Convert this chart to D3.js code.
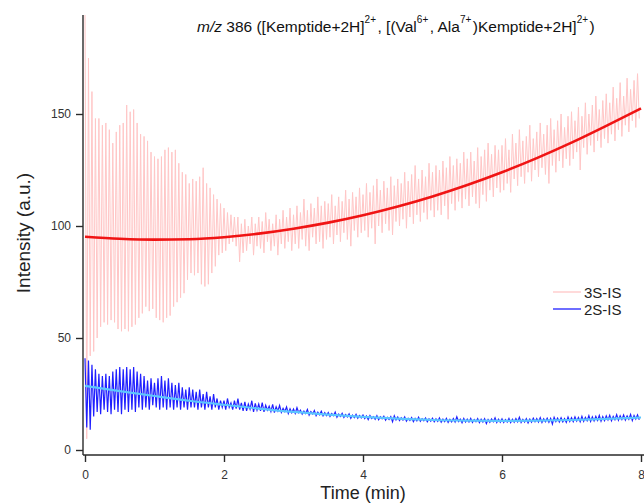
<!DOCTYPE html>
<html>
<head>
<meta charset="utf-8">
<script src="https://cdn.jsdelivr.net/npm/d3@7"></script>
<style>
  body { margin: 0; background: #fff; }
  svg { font-family: Arial, "Liberation Sans", sans-serif; }
</style>
</head>
<body>
<svg id="chart"></svg>
<script>
// sample spacing of the raw traces (min): each cycle = one peak + one trough
const step = 0.05;

const redPeaks = [
  196, 175, 160, 148, 148, 145, 146, 143, 137, 142,
  145, 146, 154, 151, 152, 146, 141, 140, 138, 133,
  131, 130, 131, 134, 135, 133, 134, 128, 124, 123,
  119, 121, 120, 122, 126, 119, 117, 114, 112, 110,
  108, 106, 105, 104, 104, 101, 103, 100, 104, 101,
  104, 102, 106, 103, 101, 105, 103, 107, 104, 108,
  105, 109, 106, 112, 107, 110, 108, 113, 109, 111,
  110, 114, 109, 113, 111, 116, 112, 115, 113, 117,
  114, 119, 115, 118, 121, 116, 120, 117, 122, 118,
  121, 119, 124, 120, 123, 127, 121, 125, 122, 128,
  124, 127, 125, 129, 126, 131, 127, 130, 128, 133,
  130, 133, 129, 135, 131, 134, 137, 132, 136, 134,
  136, 139, 134, 141, 137, 143, 138, 140, 145, 139,
  142, 146, 141, 145, 148, 143, 147, 150, 144, 149,
  151, 147, 153, 149, 155, 150, 154, 158, 152, 156,
  159, 155, 162, 157, 164, 158, 166, 161, 165, 168
];
const redTroughs = [
  5, 42, 44, 50, 55, 57, 56, 58, 57, 54,
  53, 54, 53, 55, 56, 59, 61, 64, 62, 63,
  59, 58, 57, 59, 60, 64, 66, 68, 70, 76,
  79, 78, 79, 74, 73, 74, 79, 82, 87, 88,
  89, 92, 93, 91, 84, 88, 89, 92, 87, 91,
  90, 88, 93, 89, 91, 87, 92, 90, 93, 89,
  92, 90, 94, 91, 89, 95, 92, 93, 90, 94,
  95, 92, 96, 93, 97, 94, 91, 98, 95, 97,
  98, 95, 99, 92, 100, 97, 101, 98, 96, 102,
  100, 103, 99, 104, 101, 105, 102, 106, 103, 107,
  104, 107, 105, 109, 103, 110, 107, 111, 108, 112,
  109, 113, 110, 108, 114, 111, 116, 113, 117, 115,
  116, 119, 115, 121, 118, 122, 119, 124, 120, 125,
  122, 126, 123, 119, 127, 124, 129, 126, 130, 127,
  130, 133, 125, 135, 132, 136, 133, 138, 135, 139,
  137, 141, 138, 143, 140, 145, 142, 147, 144, 148
];
const bluePeaks = [
  41, 40, 38, 36, 34, 33, 34, 33, 35, 36,
  37, 36, 37, 36, 37, 35, 34, 33, 31, 32,
  30, 32, 33, 31, 32, 30, 29, 30, 28, 27,
  28, 27, 26, 27, 25, 26, 24, 25, 23, 22,
  22, 23, 21, 22, 23, 21, 21.5, 20.5, 22, 20.8,
  20.5, 21.2, 20, 19.6, 20.4, 19.3, 19.9, 18.6, 19.2, 18.4,
  18.3, 18.9, 17.8, 17.4, 18.1, 17.1, 17.6, 16.9, 17.3, 16.7,
  16.7, 16.3, 16.9, 16, 16.4, 15.8, 16.1, 15.6, 15.9, 15.4,
  15.6, 15.2, 15.4, 14.9, 15.3, 14.8, 15.1, 14.6, 14.9, 15.3,
  14.7, 14.4, 14.8, 14.2, 14.5, 14.1, 14.6, 14, 14.3, 13.9,
  14.2, 13.9, 14.3, 13.8, 14.1, 13.7, 14, 14.8, 13.8, 14.1,
  13.8, 14.1, 13.6, 14, 13.7, 14, 13.6, 13.9, 14.4, 13.7,
  13.9, 13.6, 14.1, 13.7, 14, 14.6, 13.7, 14, 13.8, 14.2,
  14, 14.4, 13.9, 14.2, 14.1, 14.6, 14.2, 14.4, 14, 14.7,
  14.4, 14.8, 14.5, 15, 14.6, 15.3, 14.8, 15, 15.4, 14.9,
  15.2, 15.5, 15, 15.8, 15.3, 15.6, 15.2, 15.9, 15.4, 15.7
];
const blueTroughs = [
  10, 9, 15, 17, 16, 18, 17, 16, 18, 17,
  16, 18, 17, 18, 17, 19, 18, 19, 18, 20,
  19, 18, 19, 18, 19, 18, 19, 18, 19, 18,
  19, 19, 18, 19, 18, 19, 18, 19, 18, 19,
  18, 19, 18, 18.5, 18, 17.5, 17.5, 18.2, 17, 17.8,
  17.5, 17, 17.8, 17.2, 16.7, 17.4, 16.8, 17.2, 16.3, 16.6,
  16.3, 16.7, 16, 16.3, 15.6, 16.1, 15.3, 15.7, 15.3, 15.4,
  15, 15.3, 14.6, 15, 14.5, 14.8, 14.1, 14.5, 14.2, 14.3,
  14, 13.6, 14.1, 13.7, 13.5, 13.9, 13.3, 13.6, 12.6, 13.4,
  13.2, 13.3, 12.9, 13.2, 12.7, 13, 12.8, 13.1, 12.6, 12.9,
  12.6, 12.8, 12.4, 12.7, 12.3, 12.6, 12.5, 12.7, 12.2, 12.5,
  12.5, 12.3, 12.6, 12.2, 12.5, 11.8, 12.4, 12.6, 12.3, 12.4,
  12.3, 12.5, 12.2, 12.4, 12.6, 12.3, 12.5, 12.1, 12.4, 12.6,
  12.5, 12.3, 12.6, 12.4, 11.6, 12.7, 12.5, 12.6, 12.3, 12.7,
  12.7, 12.9, 12.6, 12.8, 13.1, 12.8, 13, 13.2, 12.9, 13.1,
  13.4, 13.1, 13.5, 13.3, 13.6, 13.4, 13.7, 13.2, 13.8, 13.5
];

// fitted curves, read every 0.5 min
const fitTimes = [0, 0.5, 1, 1.5, 2, 2.5, 3, 3.5, 4, 4.5, 5, 5.5, 6, 6.5, 7, 7.5, 8];
const redFit = [95.2, 94.3, 93.9, 94.1, 95.0, 96.6, 98.8, 101.5, 104.8, 108.7, 113.2, 118.3, 124.0, 130.3, 137.2, 144.7, 152.5];
const blueFit = [28.6, 26.3, 24.1, 22.0, 20.2, 18.5, 17.0, 15.8, 14.8, 14.0, 13.4, 13.1, 13.0, 13.1, 13.4, 13.9, 14.5];

const xTicks = [0, 2, 4, 6, 8];
const yTicks = [0, 50, 100, 150];
const legendNames = ["3S-IS", "2S-IS"];

const width = 644;
const height = 503;
const axisX = 83;      // left axis line
const axisY = 455;     // bottom axis line
const plotTop = 15;

const svg = d3.select("#chart")
    .attr("width", width)
    .attr("height", height);

const xScale = d3.scaleLinear().domain([0, 8]).range([85, 641]);
const yScale = d3.scaleLinear().domain([0, 150]).range([450, 114]);

svg.append("clipPath")
   .attr("id", "plot-clip")
   .append("rect")
   .attr("x", axisX + 1)
   .attr("y", plotTop)
   .attr("width", width - axisX)
   .attr("height", axisY - plotTop - 1);

const zigzag = (peaks, troughs) => {
    let pts = [];
    peaks.forEach((p, i) => {
        pts.push([i * step, p]);
        pts.push([i * step + step / 2, troughs[i]]);
    });
    return pts;
};

const rawLine = d3.line()
    .x((d) => xScale(d[0]))
    .y((d) => yScale(d[1]));

const fitLine = d3.line()
    .x((d, i) => xScale(fitTimes[i]))
    .y((d) => yScale(d))
    .curve(d3.curveMonotoneX);

const plot = svg.append("g").attr("clip-path", "url(#plot-clip)");

plot.append("path")
    .datum(zigzag(redPeaks, redTroughs))
    .attr("fill", "none")
    .attr("stroke", "#ffc6c6")
    .attr("stroke-width", 1)
    .attr("d", rawLine);

plot.append("path")
    .datum(zigzag(bluePeaks, blueTroughs))
    .attr("fill", "none")
    .attr("stroke", "#1f1fff")
    .attr("stroke-width", 1.2)
    .attr("d", rawLine);

plot.append("path")
    .datum(redFit)
    .attr("fill", "none")
    .attr("stroke", "#f01414")
    .attr("stroke-width", 2.6)
    .attr("d", fitLine);

plot.append("path")
    .datum(blueFit)
    .attr("fill", "none")
    .attr("stroke", "#5cc6ff")
    .attr("stroke-width", 2.2)
    .attr("d", fitLine);

// axes
const xAxis = d3.axisBottom(xScale).tickValues(xTicks).tickSize(7).tickSizeOuter(0).tickPadding(8);
const yAxis = d3.axisLeft(yScale).tickValues(yTicks).tickSize(7).tickSizeOuter(0).tickPadding(5);

const gx = svg.append("g")
    .attr("transform", "translate(0," + axisY + ")")
    .call(xAxis);
gx.select(".domain").attr("d", "M" + axisX + ",0H" + width);

const gy = svg.append("g")
    .attr("transform", "translate(" + axisX + ",0)")
    .call(yAxis);
gy.select(".domain").attr("d", "M0," + plotTop + "V" + axisY);

svg.selectAll(".domain, .tick line")
   .attr("stroke", "#2a2a2a")
   .attr("stroke-width", 1.4);
svg.selectAll(".tick text")
   .attr("fill", "#333")
   .style("font-size", "12px")
   .style("font-family", "Arial, 'Liberation Sans', sans-serif");

// axis titles
svg.append("text")
   .attr("x", 363)
   .attr("y", 499)
   .attr("text-anchor", "middle")
   .attr("fill", "#222")
   .style("font-size", "18px")
   .text("Time (min)");

svg.append("text")
   .attr("transform", "translate(30,233) rotate(-90)")
   .attr("text-anchor", "middle")
   .attr("fill", "#222")
   .style("font-size", "19px")
   .text("Intensity (a.u.)");

// title with superscripts: [text, superscript, italic]
const titleParts = [
    ["m/z", false, true],
    [" 386 ([Kemptide+2H]", false, false],
    ["2+", true, false],
    [", [(Val", false, false],
    ["6+", true, false],
    [", Ala", false, false],
    ["7+", true, false],
    [")Kemptide+2H]", false, false],
    ["2+", true, false],
    [")", false, false]
];
const title = svg.append("text")
   .attr("x", 197)
   .attr("y", 32)
   .attr("fill", "#111")
   .style("font-size", "15.5px");
let raised = false;
titleParts.forEach(([s, isSup, italic]) => {
    let dy = 0;
    if (isSup && !raised) { dy = -9; raised = true; }
    else if (!isSup && raised) { dy = 9; raised = false; }
    title.append("tspan")
         .attr("dy", dy)
         .attr("dx", (!isSup && dy !== 0) ? 1.5 : 0)
         .style("font-size", isSup ? "10px" : "15.5px")
         .style("font-style", italic ? "italic" : "normal")
         .text(s);
});

// legend
const legendColors = ["#ffc6c6", "#1f1fff"];
const legend = svg.append("g");
legendNames.forEach((name, i) => {
    const y = 292 + i * 17;
    legend.append("line")
          .attr("x1", 553).attr("x2", 581)
          .attr("y1", y).attr("y2", y)
          .attr("stroke", legendColors[i])
          .attr("stroke-width", 1.3);
    legend.append("text")
          .attr("x", 584)
          .attr("y", y + 5.5)
          .attr("fill", "#222")
          .style("font-size", "15px")
          .text(name);
});
</script>
</body>
</html>
